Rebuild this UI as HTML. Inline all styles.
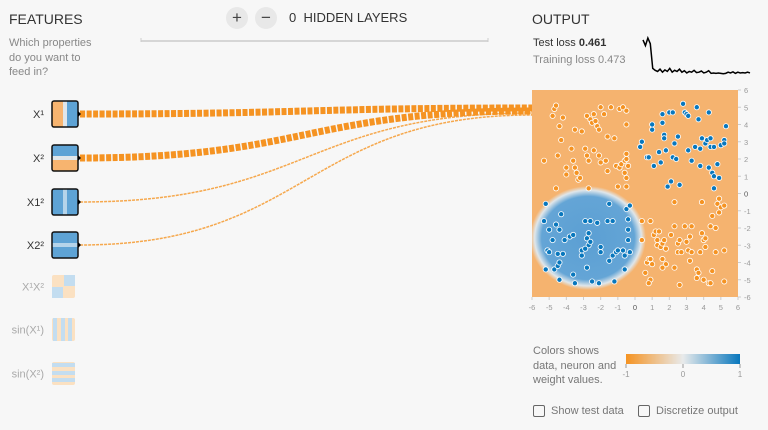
<!DOCTYPE html>
<html><head><meta charset="utf-8">
<style>
body{margin:0;width:768px;height:430px;background:#f7f7f7;font-family:"Liberation Sans",sans-serif;overflow:hidden;position:relative}
.t{position:absolute;white-space:nowrap}
</style></head>
<body>
<div class="t" style="left:9px;top:11px;font-size:14px;color:#333">FEATURES</div>
<div class="t" style="left:9px;top:36px;font-size:11px;color:#888;line-height:14.5px">Which properties<br>do you want to<br>feed in?</div>
<div class="t" style="left:226px;top:7px;width:22px;height:22px;border-radius:11px;background:#e8e8e8;text-align:center;line-height:22px;font-size:17px;color:#444">+</div>
<div class="t" style="left:255px;top:7px;width:22px;height:22px;border-radius:11px;background:#e8e8e8;text-align:center;line-height:21px;font-size:17px;color:#444">−</div>
<div class="t" style="left:289px;top:10px;font-size:13px;color:#333">0 &nbsp;HIDDEN LAYERS</div>
<div class="t" style="left:532px;top:11px;font-size:14px;color:#333">OUTPUT</div>
<div class="t" style="left:533px;top:37px;font-size:11px;color:#333">Test loss <b>0.461</b></div>
<div class="t" style="left:533px;top:54px;font-size:11px;color:#888">Training loss 0.473</div>
<div class="t" style="left:533px;top:344px;font-size:11px;color:#777;line-height:14.5px">Colors shows<br>data, neuron and<br>weight values.</div>
<div class="t" style="left:533px;top:405px;font-size:11px;color:#777"><span style="display:inline-block;width:10px;height:10px;border:1.5px solid #666;border-radius:2px;vertical-align:-3px;margin-right:6px"></span>Show test data</div>
<div class="t" style="left:638px;top:405px;font-size:11px;color:#777"><span style="display:inline-block;width:10px;height:10px;border:1.5px solid #666;border-radius:2px;vertical-align:-3px;margin-right:6px"></span>Discretize output</div>
<svg id="s" width="768" height="430" style="position:absolute;left:0;top:0">
<defs>
<linearGradient id="g1" x1="0" x2="1"><stop offset="0" stop-color="#f59322"/><stop offset="0.5" stop-color="#e8eaeb"/><stop offset="1" stop-color="#0877bd"/></linearGradient>
<radialGradient id="rg"><stop offset="0" stop-color="#5b9fd3"/><stop offset="0.8" stop-color="#64a5d6"/><stop offset="0.92" stop-color="#dfe6ea"/><stop offset="1" stop-color="#f5b36f"/></radialGradient>
<clipPath id="cp"><rect x="532" y="90" width="206" height="207"/></clipPath>
</defs>
<line x1="141" y1="41" x2="488" y2="41" stroke="#ccc" stroke-width="1.5"/>
<line x1="141" y1="38" x2="141" y2="42" stroke="#ccc"/><line x1="488" y1="38" x2="488" y2="42" stroke="#ccc"/>
<g id="links"></g><g id="feats"></g><g id="heat"></g><g id="axes"></g><g id="loss"></g>
<rect x="626" y="354" width="114" height="10" fill="url(#g1)"/>
<g font-size="8" fill="#999" text-anchor="middle">
<line x1="626" y1="364" x2="626" y2="368" stroke="#999"/><text x="626" y="377">-1</text>
<line x1="683" y1="364" x2="683" y2="368" stroke="#999"/><text x="683" y="377">0</text>
<line x1="740" y1="364" x2="740" y2="368" stroke="#999"/><text x="740" y="377">1</text></g>
</svg>
<script>
const blueX=[0.3,0.4,0.7,0.8,1,1,1.1,1.4,1.5,1.6,1.6,1.7,1.7,1.8,1.9,2,2.2,2.1,2.2,2.4,2.3,2.5,2.6,2.8,2.9,3,3.1,3.1,3.3,3.5,3.6,3.7,3.8,3.8,3.9,4.1,4.2,4.3,4.4,4.4,4.3,4.5,4.6,4.6,4.6,4.9,4.8,5,5.2,5.2,5.3,
-5.2,-5.3,-5,-4.8,-4.6,-4.4,-4.3,-4.1,-5.1,-5.0,-4.5,-4.2,-5.2,-4.7,-4.5,-4.4,-4.4,-3.6,-3.5,-3.8,-3.6,-2.9,-2.6,-2.2,-2.8,-2.7,-2.7,-2.6,-3.1,-3.1,-2.9,-2.8,-2.5,-2.1,-2,-2,-1.5,-1.6,-1.3,-1.5,-1.3,-1.1,-1,-0.7,-0.6,-1.2,-0.6,-0.5,-0.4,-0.4,-0.4,-0.3,-0.3];
const blueY=[2.7,3,2.1,2.1,3.7,4,1.6,2.4,1.8,4.1,4.6,3.4,3.2,2.5,0.4,4.7,4.7,0.7,2.1,2,2.9,3.3,0.5,5.2,4.7,4.6,4.5,2.5,1.9,2.7,5,4.3,2.6,1.6,3.2,2.9,3.1,4.7,3.2,2.7,1.5,1.2,1,0.3,2.7,0.9,1.7,2.8,3.1,2.9,3.9,
-0.6,-1.6,-2.1,-2.7,-1.8,-2.1,-1.2,-2.7,-3.3,-3.4,-3.5,-3.5,-4.4,-4.4,-4.2,-4,-5,-4.7,-5.2,-2.5,-2.4,-1.6,-1.6,-1.7,-2.6,-2.3,-3,-2.8,-3.3,-3.6,-3.2,-4.3,-5.1,-5.2,-3.4,-3.1,-0.6,-1.6,-1.6,-3.9,-3.6,-3.4,-3.3,-3.3,-3.6,-5.1,-4.4,-0.9,-2.1,-1.5,-2.7,-3.4,-0.7];
const orangeX=[-4.8,-4.7,-4.6,-4.4,-4.2,-4.3,-5.3,-4.5,-3.7,-3.6,-3.5,-3.4,-3.3,-3.2,-3.5,-3.1,-2.9,-2.8,-2.7,-2.8,-2.6,-2.4,-2.5,-2.3,-2.2,-2.1,-2,-1.8,-1.6,-1.4,-1.2,-0.9,-0.7,-0.5,-0.5,-2.1,-2,-1.7,-1.6,-1.1,-0.9,-0.8,-0.6,-0.5,-0.4,-0.5,-0.6,-0.5,-0.5,-1,-2.7,-4.6,-4,-4,-2.4,
0.4,0.9,0.4,0.6,0.7,0.8,0.9,1,0.9,0.8,1.1,1.2,1.3,1.3,1.4,1.5,1.6,1.7,1.8,1.8,1.6,1.6,2.1,2.3,2.3,2.3,2.5,2.6,2.5,2.7,2.6,2.9,3,3.2,3.3,3.1,3.3,3.2,3.6,3.6,3.7,3.8,3.9,3.9,4,4.1,4,4.1,4.4,4.3,4.4,4.5,4.7,4.8,4.9,4.9,4.7,5,5.2,5.2,5.2,4.5];
const orangeY=[4.5,4.9,5.1,3.9,4.4,3.1,1.9,2.2,2.6,1.9,1.5,1.2,0.8,0.9,3.7,3.6,2.6,2.2,1.9,4.5,4.3,4.6,4.1,4.2,3.9,3.7,5,4.6,3.3,5,3.2,4.9,5,4.8,4,2.2,1.8,1.9,1.3,1.6,1.5,1.7,1.9,2,1.6,2.3,1.2,0.9,0.4,0.4,0.3,0.3,1.5,1.1,2.5,
-1.6,-1.6,-2.7,-4.6,-4,-3.8,-3.8,-4.1,-5,-5.2,-2.4,-2.2,-2.7,-3,-2.2,-3.1,-2.9,-2.7,-3.2,-4.1,-3.8,-4.3,-2.4,-1.9,-0.5,-4.3,-2.9,-2.7,-3.4,-3.4,-5.3,-1.9,-2.8,-2.5,-1.9,-3.3,-3.4,-3.9,-4.4,-4.9,-4.6,-3.4,-0.5,-2.3,-2.7,-2.6,-5,-3.1,-1.9,-5.2,-5.2,-1.3,-3.4,-0.6,-1.1,-0.3,-2,-0.8,-0.7,-3.3,-5.1,-4.5];
const lossVals=[0.95,0.8,1.0,0.85,0.2,0.15,0.12,0.18,0.1,0.16,0.12,0.2,0.1,0.15,0.12,0.18,0.1,0.14,0.08,0.12,0.1,0.15,0.09,0.1,0.13,0.08,0.1,0.14,0.07,0.08,0.07,0.08,0.07,0.06,0.07,0.1,0.08,0.11,0.07,0.1,0.08,0.09,0.08,0.1,0.08];
const axisTicks=[-6,-5,-4,-3,-2,-1,0,1,2,3,4,5,6];
const featNames=["X¹","X²","X1²","X2²","X¹X²","sin(X¹)","sin(X²)"];
const linkWeights=[7,7,1.5,1.5];
const NS="http://www.w3.org/2000/svg";
function mk(p,tag,a){const e=document.createElementNS(NS,tag);for(const k in a)e.setAttribute(k,a[k]);p.appendChild(e);return e;}
const X0=532,X1=738,Y0=90,Y1=297;
const sx=v=>X0+(v+6)/12*(X1-X0), sy=v=>Y1-(v+6)/12*(Y1-Y0);
const L=document.getElementById('links');
const fy=[114,158,202,245], ty=[108,111,113,115];
linkWeights.forEach((w,i)=>{const p=mk(L,'path',{d:`M80 ${fy[i]} C306 ${fy[i]} 306 ${ty[i]} 532 ${ty[i]}`,fill:'none',stroke:'#f59322','stroke-width':w,'stroke-dasharray':w>3?'5 1.5':'3 1',opacity:w>3?1:0.8});

});
const F=document.getElementById('feats');
const fTop=[101,145,189,232,275,318,362];
featNames.forEach((n,i)=>{const g=mk(F,'g',{});


const act=i<4,y=fTop[i],s=act?26:23,x=52;
if(i==0){mk(g,'rect',{x,y,width:13,height:s,fill:'#f7b46f'});mk(g,'rect',{x:x+13,y,width:13,height:s,fill:'#5ea3d5'});mk(g,'rect',{x:x+11,y,width:4,height:s,fill:'#e0e6ea'});}
else if(i==1){mk(g,'rect',{x,y,width:s,height:13,fill:'#5ea3d5'});mk(g,'rect',{x,y:y+13,width:s,height:13,fill:'#f7b46f'});mk(g,'rect',{x,y:y+11,width:s,height:4,fill:'#e0e6ea'});}
else if(i==2){mk(g,'rect',{x,y,width:s,height:s,fill:'#5ea3d5'});mk(g,'rect',{x:x+11,y,width:4,height:s,fill:'#b5d4ea'});}
else if(i==3){mk(g,'rect',{x,y,width:s,height:s,fill:'#5ea3d5'});mk(g,'rect',{x,y:y+11,width:s,height:4,fill:'#b5d4ea'});}
else if(i==4){mk(g,'rect',{x,y,width:s,height:s,fill:'#fbe1c2',rx:2});mk(g,'rect',{x:x+12,y,width:11,height:11,fill:'#c3ddf0'});mk(g,'rect',{x,y:y+12,width:11,height:11,fill:'#c3ddf0'});}
else if(i==5){mk(g,'rect',{x,y,width:s,height:s,fill:'#fbe1c2',rx:2});[1,9,16].forEach(d=>mk(g,'rect',{x:x+d,y,width:4,height:s,fill:'#c3ddf0'}));}
else {mk(g,'rect',{x,y,width:s,height:s,fill:'#fbe1c2',rx:2});[1,9,16].forEach(d=>mk(g,'rect',{x,y:y+d,width:s,height:4,fill:'#c3ddf0'}));}
if(act){mk(g,'rect',{x,y,width:s,height:s,fill:'none',stroke:'#111','stroke-width':1.5,rx:2});mk(g,'path',{d:`M${x+s} ${y+s/2-3}l3 3l-3 3z`,fill:'#000'});}
const t=mk(g,'text',{x:44,y:y+s/2+4,'text-anchor':'end','font-size':11,fill:act?'#333':'#aaa'});t.textContent=n;});
const H=document.getElementById('heat');
const hm=mk(H,'g',{'clip-path':'url(#cp)'});


mk(hm,'rect',{x:X0,y:Y0,width:X1-X0,height:Y1-Y0,fill:'#f5b36f'});
mk(hm,'ellipse',{cx:588,cy:238,rx:58,ry:52,fill:'url(#rg)'});
function pts(xs,ys,c,nm){xs.forEach((v,i)=>{const e=mk(hm,'circle',{cx:sx(v),cy:sy(ys[i]),r:2.6,fill:c,stroke:'#fff','stroke-width':0.8});

});}
pts(orangeX,orangeY,'#f59322','orange-point');pts(blueX,blueY,'#0877bd','blue-point');
const A=document.getElementById('axes');
axisTicks.forEach(v=>{mk(A,'line',{x1:X1,x2:X1+3,y1:sy(v),y2:sy(v),stroke:'#ccc'});
const t=mk(A,'text',{x:X1+6,y:sy(v)+3,'font-size':7.5,fill:v==0?'#555':'#999'});t.textContent=v;
mk(A,'line',{x1:sx(v),x2:sx(v),y1:Y1,y2:Y1+3,stroke:'#ccc'});
const b=mk(A,'text',{x:sx(v),y:Y1+13,'font-size':7.5,'text-anchor':'middle',fill:v==0?'#555':'#999'});b.textContent=v;});
const LS=document.getElementById('loss');
const lx=i=>643+i*(750-643)/(lossVals.length-1), ly=v=>76-v*38;
const lp=mk(LS,'path',{d:lossVals.map((v,i)=>(i?'L':'M')+lx(i)+' '+ly(v)).join(''),fill:'none',stroke:'#000','stroke-width':1.5});


</script>
</body></html>
